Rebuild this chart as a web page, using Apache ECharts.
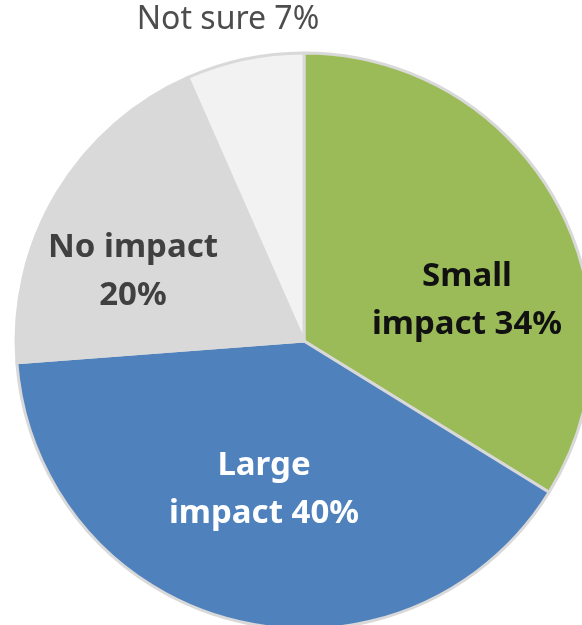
<!DOCTYPE html>
<html>
<head>
<meta charset="utf-8">
<script src="https://cdn.jsdelivr.net/npm/echarts@6/dist/echarts.min.js"></script>
<style>
html,body{margin:0;padding:0;background:#fff;}
#chart{width:582px;height:625px;}
</style>
</head>
<body>
<div id="chart"></div>
<script>
const categories = ['Small impact', 'Large impact', 'No impact', 'Not sure'];
const values = [33.8, 40.0, 19.6, 6.6];
const labelNames = ['Small\nimpact', 'Large\nimpact', 'No impact\n', 'Not sure'];
const colors = ['#9BBB59', '#4F81BD', '#D9D9D9', '#F2F2F2'];
const labelColors = ['#111111', '#ffffff', '#404040', '#4d4d4d'];
const labelWeights = ['bold', 'bold', 'bold', 'normal'];
const labelSizes = [33, 33, 33, 32];
const labelSpots = [[467, 301], [264, 490], [133, 272], [228, 20]];

const chart = echarts.init(document.getElementById('chart'));
const data = categories.map((c, i) => ({
  name: c,
  value: values[i],
  itemStyle: { color: colors[i] },
  label: {
    formatter: labelNames[i] + (labelNames[i].endsWith('\n') ? '' : ' ') + Math.round(values[i]) + '%',
    color: labelColors[i],
    fontWeight: labelWeights[i],
    fontSize: labelSizes[i],
    lineHeight: 48
  }
}));

chart.setOption({
  animation: false,
  series: [{
    type: 'pie',
    center: [304, 341],
    radius: 288,
    startAngle: 90,
    clockwise: true,
    silent: true,
    itemStyle: { borderColor: '#D9D9D9', borderWidth: 3 },
    label: {
      show: true,
      position: 'inside',
      fontFamily: 'Noto Sans',
      align: 'center'
    },
    labelLine: { show: false },
    labelLayout: function (params) {
      const p = labelSpots[params.dataIndex];
      return { x: p[0], y: p[1], align: 'center', verticalAlign: 'middle' };
    },
    emphasis: { disabled: true },
    data: data
  }]
});
</script>
</body>
</html>
